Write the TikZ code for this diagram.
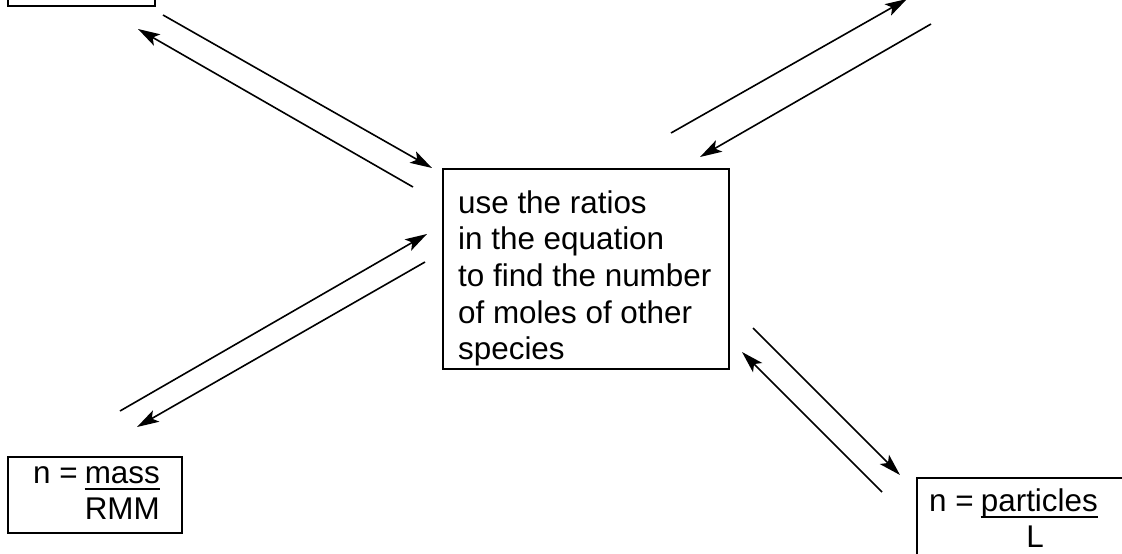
\documentclass[tikz,border=0pt]{standalone}
\usepackage{fontspec}
\setmainfont{Liberation Sans}
\usetikzlibrary{arrows.meta}
\begin{document}
\begin{tikzpicture}[x=1pt,y=-1pt,
  box/.style={draw,line width=1.6pt,inner sep=0pt},
  txt/.style={inner sep=0pt,font=\fontsize{31.4}{36.7}\selectfont},
  conn/.style={line width=1.6pt,-{Stealth[length=22pt,width=13pt,inset=5pt]}},
  uline/.style={line width=1.8pt}]
\clip (0,0) rectangle (1122,554);
% boxes
\node[box,anchor=north west,minimum width=147pt,minimum height=80pt] (tl) at (7,-75) {};
\node[box,anchor=north west,minimum width=286pt,minimum height=200pt] (mid) at (442,168) {};
\node[box,anchor=north west,minimum width=174pt,minimum height=76pt] (mass) at (7,456) {};
\node[box,anchor=north west,minimum width=220pt,minimum height=100pt] (part) at (916,477) {};
% centre text
\foreach \t [count=\i] in {use the ratios,in the equation,to find the number,of moles of other,species}
  \node[txt,anchor=base west] (l\i) at (458,{213+36.7*(\i-1)}) {\t};
% mass box text
\node[txt,anchor=base west] (m1) at (33,483) {n =};
\node[txt,anchor=base east] (m2) at (160,483) {mass};
\node[txt,anchor=base east] (m3) at (160,519) {RMM};
\draw[uline] ([yshift=-6pt]m2.base west) -- ([yshift=-6pt]m2.base east);
% particles box text
\node[txt,anchor=base west] (p1) at (929,511) {n =};
\node[txt,anchor=base east] (p2) at (1098,511) {particles};
\node[txt,anchor=base] (p3) at (1035,547) {L};
\draw[uline] ([yshift=-6pt]p2.base west) -- ([yshift=-6pt]p2.base east);
% connector ends
\coordinate (a1) at (163,15);  \coordinate (a2) at (432,168);
\coordinate (b1) at (413,187); \coordinate (b2) at (138,29);
\coordinate (c1) at (671,133); \coordinate (c2) at (907,-1);
\coordinate (d1) at (931,24);  \coordinate (d2) at (700,157);
\coordinate (e1) at (753,328); \coordinate (e2) at (900,475);
\coordinate (f1) at (882,492); \coordinate (f2) at (742,352);
\coordinate (g1) at (120,411); \coordinate (g2) at (427,234);
\coordinate (h1) at (425,262); \coordinate (h2) at (137,427);
\foreach \p in {a,b,c,d,e,f,g,h}
  \draw[conn] (\p1) -- (\p2);
\end{tikzpicture}
\end{document}
